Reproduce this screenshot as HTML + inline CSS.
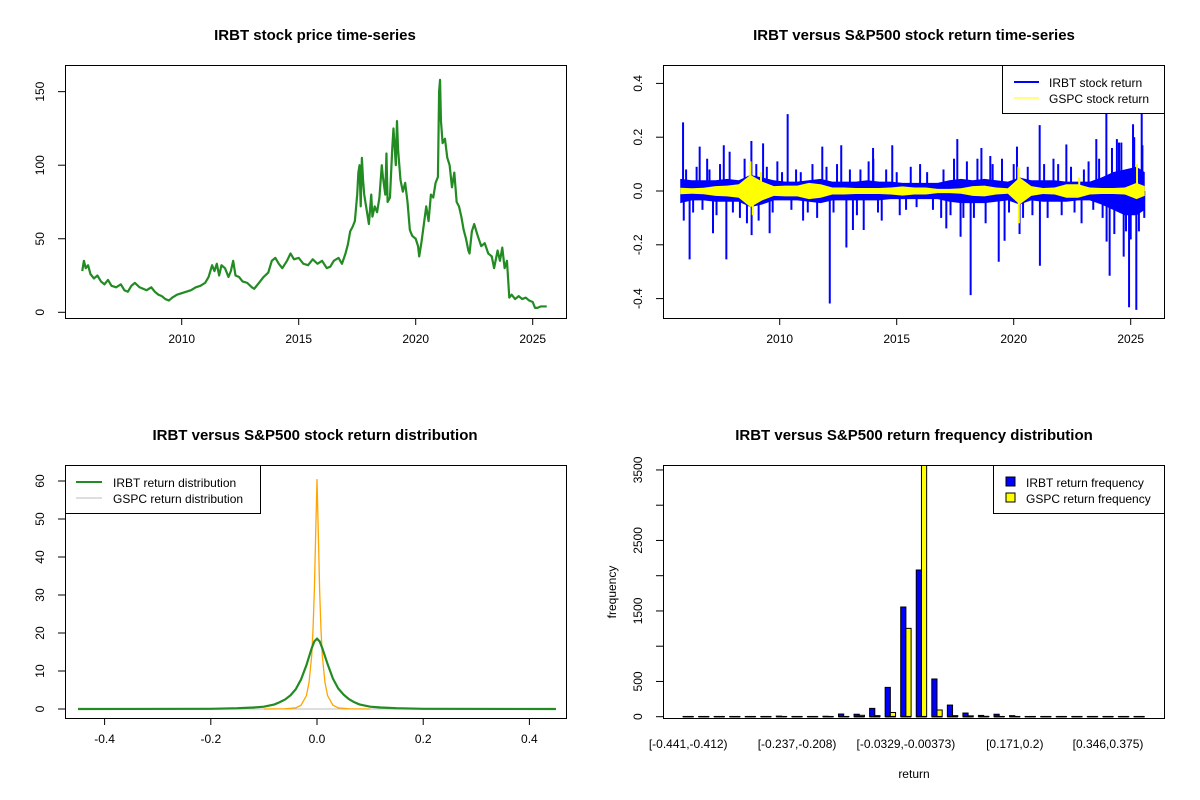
<!DOCTYPE html>
<html><head><meta charset="utf-8"><style>
html,body{margin:0;padding:0;background:#fff;}
svg{display:block;font-family:"Liberation Sans",Arial,sans-serif;}
.t{font-weight:bold;font-size:15px;text-anchor:middle;}
.ax{font-size:12px;}
</style></head><body>
<svg id="chart" width="1200" height="800" viewBox="0 0 1200 800"></svg>
<script>
// ---------- Panel 1: price ----------
const priceYears=[2005.75,2005.82,2005.9,2006.0,2006.1,2006.25,2006.4,2006.55,2006.7,2006.85,2007.0,2007.2,2007.4,2007.55,2007.7,2007.85,2008.0,2008.2,2008.35,2008.5,2008.7,2008.85,2009.0,2009.15,2009.3,2009.45,2009.6,2009.8,2010.0,2010.2,2010.4,2010.6,2010.8,2011.0,2011.15,2011.3,2011.4,2011.5,2011.6,2011.7,2011.85,2012.0,2012.1,2012.2,2012.3,2012.45,2012.6,2012.8,2013.0,2013.1,2013.3,2013.5,2013.7,2013.85,2014.0,2014.15,2014.3,2014.5,2014.65,2014.8,2015.0,2015.2,2015.4,2015.6,2015.8,2016.0,2016.2,2016.35,2016.5,2016.7,2016.85,2017.0,2017.1,2017.2,2017.3,2017.4,2017.5,2017.55,2017.6,2017.65,2017.7,2017.75,2017.8,2017.9,2018.0,2018.1,2018.15,2018.25,2018.35,2018.45,2018.55,2018.6,2018.7,2018.75,2018.8,2018.9,2019.0,2019.05,2019.15,2019.2,2019.25,2019.35,2019.45,2019.55,2019.65,2019.75,2019.85,2020.0,2020.1,2020.15,2020.25,2020.35,2020.45,2020.55,2020.65,2020.75,2020.85,2020.95,2021.0,2021.04,2021.08,2021.15,2021.25,2021.35,2021.45,2021.55,2021.65,2021.75,2021.85,2021.95,2022.05,2022.15,2022.25,2022.3,2022.4,2022.5,2022.65,2022.8,2022.95,2023.1,2023.25,2023.35,2023.5,2023.6,2023.7,2023.8,2023.9,2024.0,2024.1,2024.25,2024.4,2024.55,2024.7,2024.85,2025.0,2025.1,2025.2,2025.35,2025.5,2025.6];
const priceVals=[28,35,30,32,26,23,25,21,19,22,18,17,19,15,14,18,20,17,16,15,17,14,12,11,9,8,10,12,13,14,15,17,18,20,24,32,28,33,25,32,30,24,28,35,25,24,21,20,17,16,20,24,27,35,37,33,30,35,40,36,37,33,32,36,33,35,30,31,35,37,33,40,46,55,58,62,80,95,100,72,105,90,80,70,60,80,65,72,68,78,100,92,80,108,75,78,112,125,100,130,110,90,82,88,75,56,52,50,45,38,48,60,72,62,80,78,88,92,150,158,130,115,118,105,100,85,95,75,72,65,56,50,42,40,55,60,52,45,47,40,38,30,42,35,44,30,35,10,12,9,11,9,10,8,7,3,3,4,4,4];
const priceTicks=[0,50,100,150];
const yearTicks=[2010,2015,2020,2025];
// ---------- Panel 2: returns ----------
const envYears=[2005.75,2006.25,2006.75,2007.25,2007.75,2008.25,2008.75,2009.25,2009.75,2010.25,2010.75,2011.25,2011.75,2012.25,2012.75,2013.25,2013.75,2014.25,2014.75,2015.25,2015.75,2016.25,2016.75,2017.25,2017.75,2018.25,2018.75,2019.25,2019.75,2020.25,2020.75,2021.25,2021.75,2022.25,2022.75,2023.25,2023.75,2024.25,2024.75,2025.25,2025.6];
const irbtUpper=[0.045,0.04,0.04,0.04,0.045,0.04,0.06,0.05,0.04,0.035,0.035,0.04,0.045,0.035,0.035,0.035,0.04,0.035,0.035,0.03,0.03,0.03,0.03,0.04,0.045,0.04,0.045,0.04,0.035,0.05,0.04,0.04,0.04,0.035,0.035,0.035,0.05,0.07,0.08,0.09,0.07];
const irbtLower=[-0.045,-0.035,-0.035,-0.04,-0.04,-0.04,-0.06,-0.05,-0.035,-0.035,-0.035,-0.04,-0.045,-0.035,-0.035,-0.035,-0.035,-0.035,-0.03,-0.03,-0.03,-0.03,-0.03,-0.04,-0.045,-0.045,-0.045,-0.04,-0.035,-0.05,-0.035,-0.04,-0.04,-0.04,-0.035,-0.035,-0.05,-0.07,-0.09,-0.09,-0.07];
const gspcAmp=[0.012,0.01,0.012,0.018,0.02,0.025,0.06,0.035,0.018,0.02,0.02,0.03,0.025,0.013,0.013,0.011,0.011,0.011,0.013,0.017,0.013,0.013,0.008,0.008,0.01,0.018,0.02,0.013,0.01,0.05,0.018,0.011,0.013,0.025,0.025,0.013,0.011,0.011,0.013,0.03,0.018];
const spikeYears=[2005.87,2005.9,2006.15,2006.58,2007.15,2007.61,2007.72,2007.86,2008.79,2008.8,2009.29,2009.57,2010.34,2011.82,2012.14,2012.63,2012.85,2013.13,2013.59,2013.99,2014.36,2014.81,2015.13,2017.12,2017.59,2017.73,2018.16,2018.62,2019.36,2019.61,2020.14,2020.25,2021.11,2021.12,2022.25,2023.53,2023.96,2023.97,2024.1,2024.41,2024.7,2024.93,2025.1,2025.24,2025.47,2025.58,2006.9,2008.3,2009.9,2011.0,2014.0,2016.0,2016.9,2019.0,2021.7,2022.9,2023.2,2024.6,2025.0,
2006.0,2006.3,2006.45,2006.7,2007.0,2007.3,2007.45,2008.0,2008.5,2008.6,2009.0,2009.1,2009.45,2009.7,2010.1,2010.5,2010.7,2010.9,2011.2,2011.4,2011.6,2012.0,2012.3,2012.45,2013.0,2013.3,2013.45,2013.8,2014.2,2014.55,2015.0,2015.4,2015.6,2015.85,2016.3,2016.55,2017.0,2017.3,2017.45,2017.85,2018.0,2018.3,2018.45,2018.8,2019.1,2019.5,2019.8,2020.0,2020.4,2020.6,2020.8,2021.3,2021.45,2021.9,2022.05,2022.45,2022.6,2023.0,2023.4,2023.65,2023.8,2024.2,2024.3,2024.5,2024.8,2025.15,2025.35,2025.5];
const spikeVals=[0.255,-0.11,-0.254,0.165,-0.157,0.17,-0.254,0.146,0.186,-0.164,0.177,-0.157,0.286,0.165,-0.418,0.17,-0.21,-0.145,-0.145,0.16,-0.11,0.17,-0.09,-0.139,0.193,-0.17,-0.387,0.16,-0.263,-0.185,0.165,-0.16,0.245,-0.278,0.173,0.193,0.295,-0.188,-0.315,0.193,-0.244,-0.432,0.248,-0.442,0.289,-0.1,0.12,-0.1,0.11,-0.11,0.12,0.1,-0.1,0.13,0.12,-0.12,0.11,0.18,-0.18,
0.08,-0.08,0.09,-0.07,0.08,-0.09,0.1,-0.08,0.12,-0.12,0.1,-0.11,0.09,-0.08,0.07,-0.07,0.08,0.07,-0.08,0.1,-0.1,0.09,-0.08,0.1,0.08,-0.09,0.08,0.11,-0.08,0.08,0.07,-0.07,0.09,-0.06,0.07,-0.07,0.08,-0.09,0.12,-0.1,0.11,-0.1,0.12,-0.12,0.1,0.12,-0.08,0.1,-0.1,0.09,-0.09,0.1,-0.1,0.1,-0.09,0.09,-0.08,0.08,-0.07,0.12,-0.1,0.16,-0.16,0.18,-0.15,0.2,-0.15,0.17];
const gspcSpikeYears=[2008.75,2008.85,2009.2,2020.2,2020.22,2022.8,2025.27];
const gspcSpikeVals=[0.11,-0.09,0.07,0.09,-0.12,0.05,0.1];
const retTicks=[-0.4,-0.2,0,0.2,0.4];
// ---------- Panel 3: density ----------
const densX=[-0.45,-0.2,-0.15,-0.12,-0.1,-0.08,-0.07,-0.06,-0.05,-0.04,-0.03,-0.02,-0.01,-0.005,0,0.005,0.01,0.02,0.03,0.04,0.05,0.06,0.07,0.08,0.1,0.12,0.15,0.2,0.45];
const irbtDens=[0,0.05,0.2,0.4,0.6,1.2,1.8,2.5,3.6,5.2,7.8,11.5,16,17.8,18.5,17.8,16,11.8,8,5.4,3.8,2.6,1.8,1.2,0.6,0.4,0.2,0.05,0];
const gspcX=[-0.1,-0.06,-0.04,-0.03,-0.02,-0.015,-0.01,-0.0075,-0.005,-0.0025,0,0.0025,0.005,0.0075,0.01,0.015,0.02,0.03,0.04,0.06,0.1];
const gspcDens=[0,0.05,0.3,1,3.5,7,14,21,31,46,60.5,46,31,21,14,7,3.5,1,0.3,0.05,0];
const densXTicks=[-0.4,-0.2,0,0.2,0.4];
const densYTicks=[0,10,20,30,40,50,60];
// ---------- Panel 4: histogram ----------
const irbtFreq=[2,1,1,1,1,1,8,1,2,6,38,35,118,416,1556,2081,535,165,52,18,35,15,2,1,1,1,1,1,2,2];
const gspcFreq=[0,0,0,0,0,0,0,0,0,0,2,20,15,60,1253,3700,95,15,12,5,3,0,0,0,0,0,0,0,0,0];
const binLabels=["[-0.441,-0.412)","[-0.237,-0.208)","[-0.0329,-0.00373)","[0.171,0.2)","[0.346,0.375)"];
const binLabelIdx=[0,7,14,21,27];
const freqTicks=[0,500,1000,1500,2000,2500,3000,3500];
const freqLabels=["0","500","","1500","","2500","","3500"];

const svg=document.getElementById('chart');
const NS='http://www.w3.org/2000/svg';
function mk(tag,attrs,parent,text){const e=document.createElementNS(NS,tag);for(const k in attrs)e.setAttribute(k,attrs[k]);if(text!==undefined)e.textContent=text;(parent||svg).appendChild(e);return e;}

const yx1=y=>181.7+(y-2010)*23.4;
const py1=v=>312.3-v*1.471;
const yx2=y=>779.7+(y-2010)*23.4;
const ry2=v=>191-v*269;
const dx3=x=>317+x*531;
const dy3=v=>709-v*3.8;
const gx4=i=>683+15.55*i;
const fy4=c=>716.7-c*0.0705;

function box(x,y,w,h,name){const r=mk('rect',{x:x,y:y,width:w,height:h,fill:'none',stroke:'#000','stroke-width':1});

}
function title(x,y,s,name){const t=mk('text',{x:x,y:y,class:'t'},svg,s);

}
function xtick(x,y,label,g){mk('line',{x1:x,y1:y,x2:x,y2:y+7,stroke:'#000'},g);if(label!=='')mk('text',{x:x,y:y+25,'text-anchor':'middle',class:'ax'},g,label);}
function ytick(x,y,label,g){mk('line',{x1:x,y1:y,x2:x-7,y2:y,stroke:'#000'},g);if(label!=='')mk('text',{x:x-21,y:y,'text-anchor':'middle',class:'ax',transform:`rotate(-90 ${x-21} ${y})`},g,label);}
function grp(name){const g=mk('g',{});return g;}

// ===== Panel 1 =====
title(315,40,'IRBT stock price time-series','price-chart-title');
let g=grp('price-x-axis');yearTicks.forEach(t=>xtick(yx1(t),318,String(t),g));
g=grp('price-y-axis');priceTicks.forEach(t=>ytick(65,py1(t),String(t),g));
let pl=mk('polyline',{points:priceYears.map((y,i)=>yx1(y)+','+py1(priceVals[i])).join(' '),fill:'none',stroke:'#228B22','stroke-width':2.2,'stroke-linejoin':'round'});


box(65.5,65.5,501,253,'price-plot-frame');

// ===== Panel 2 =====
title(914,40,'IRBT versus S&P500 stock return time-series','return-chart-title');
g=grp('return-x-axis');yearTicks.forEach(t=>xtick(yx2(t),318,String(t),g));
g=grp('return-y-axis');retTicks.forEach(t=>ytick(663,ry2(t),t===0?'0.0':t.toFixed(1),g));
const clipR=mk('clipPath',{id:'c2'});mk('rect',{x:663,y:65,width:502,height:253},clipR);
const g2=mk('g',{'clip-path':'url(#c2)'});


let up=envYears.map((y,i)=>yx2(y)+','+ry2(irbtUpper[i]));
let lo=envYears.map((y,i)=>yx2(y)+','+ry2(irbtLower[i])).reverse();
let band=mk('polygon',{points:up.concat(lo).join(' '),fill:'#0000FF'},g2);


spikeYears.forEach((y,i)=>{const l=mk('line',{x1:yx2(y),x2:yx2(y),y1:ry2(0),y2:ry2(spikeVals[i]),stroke:'#0000FF','stroke-width':2},g2);

});
let gu=envYears.map((y,i)=>yx2(y)+','+ry2(gspcAmp[i]));
let gl=envYears.map((y,i)=>yx2(y)+','+ry2(-gspcAmp[i])).reverse();
let gb=mk('polygon',{points:gu.concat(gl).join(' '),fill:'#FFFF00'},g2);


gspcSpikeYears.forEach((y,i)=>{const l=mk('line',{x1:yx2(y),x2:yx2(y),y1:ry2(0),y2:ry2(gspcSpikeVals[i]),stroke:'#FFFF00','stroke-width':2},g2);

});
box(663.5,65.5,501,253,'return-plot-frame');
g=grp('return-legend');
mk('rect',{x:1002.5,y:65.5,width:162,height:48,fill:'#fff',stroke:'#000'},g);
mk('line',{x1:1014,x2:1039,y1:82,y2:82,stroke:'#0000FF','stroke-width':2},g);
mk('text',{x:1049,y:87,class:'ax'},g,'IRBT stock return');
mk('line',{x1:1014,x2:1039,y1:98,y2:98,stroke:'#FFFF00','stroke-width':1},g);
mk('text',{x:1049,y:103,class:'ax'},g,'GSPC stock return');

// ===== Panel 3 =====
title(315,440,'IRBT versus S&P500 stock return distribution','density-chart-title');
g=grp('density-x-axis');densXTicks.forEach(t=>xtick(dx3(t),718,t===0?'0.0':t.toFixed(1),g));
g=grp('density-y-axis');densYTicks.forEach(t=>ytick(65,dy3(t),String(t),g));
let gl0=mk('line',{x1:dx3(-0.45),x2:dx3(0.45),y1:dy3(0),y2:dy3(0),stroke:'#BEBEBE','stroke-width':1});


let od=mk('polyline',{points:gspcX.map((x,i)=>dx3(x)+','+dy3(gspcDens[i])).join(' '),fill:'none',stroke:'#FFA500','stroke-width':1.3});


let gd=mk('polyline',{points:densX.map((x,i)=>dx3(x)+','+dy3(irbtDens[i])).join(' '),fill:'none',stroke:'#228B22','stroke-width':2.2});


box(65.5,465.5,501,253,'density-plot-frame');
g=grp('density-legend');
mk('rect',{x:65.5,y:465.5,width:195,height:48,fill:'#fff',stroke:'#000'},g);
mk('line',{x1:76,x2:102,y1:482,y2:482,stroke:'#228B22','stroke-width':2},g);
mk('text',{x:113,y:487,class:'ax'},g,'IRBT return distribution');
mk('line',{x1:76,x2:102,y1:498,y2:498,stroke:'#BEBEBE','stroke-width':1},g);
mk('text',{x:113,y:503,class:'ax'},g,'GSPC return distribution');

// ===== Panel 4 =====
title(914,440,'IRBT versus S&P500 return frequency distribution','histogram-title');
g=grp('histogram-x-axis');
binLabelIdx.forEach((b,k)=>mk('text',{x:gx4(b)+5.2,y:748,'text-anchor':'middle',class:'ax'},g,binLabels[k]));
let xl=mk('text',{x:914,y:778,'text-anchor':'middle',class:'ax'},svg,'return');


let yl=mk('text',{x:616,y:592,'text-anchor':'middle',class:'ax',transform:'rotate(-90 616 592)'},svg,'frequency');


g=grp('histogram-y-axis');freqTicks.forEach((t,i)=>ytick(663,fy4(t),freqLabels[i],g));
const clipH=mk('clipPath',{id:'c4'});mk('rect',{x:663,y:465,width:502,height:253},clipH);
const g4=mk('g',{'clip-path':'url(#c4)'});


irbtFreq.forEach((c,i)=>{
 const x=gx4(i);
 const b=mk('rect',{x:x,y:fy4(c),width:5.2,height:Math.max(0.01,fy4(0)-fy4(c)),fill:'#0000FF',stroke:'#000','stroke-width':1},g4);
 
 
 const c2=gspcFreq[i];
 const b2=mk('rect',{x:x+5.2,y:fy4(c2),width:5.2,height:Math.max(0.01,fy4(0)-fy4(c2)),fill:'#FFFF00',stroke:'#000','stroke-width':1},g4);
 
 
 mk('line',{x1:x,x2:x+10.4,y1:fy4(0),y2:fy4(0),stroke:'#000','stroke-width':1.5},g4);
});
box(663.5,465.5,501,253,'histogram-plot-frame');
g=grp('histogram-legend');
mk('rect',{x:993.5,y:465.5,width:171,height:48,fill:'#fff',stroke:'#000'},g);
mk('rect',{x:1006,y:477,width:9,height:9,fill:'#0000FF',stroke:'#000'},g);
mk('text',{x:1026,y:487,class:'ax'},g,'IRBT return frequency');
mk('rect',{x:1006,y:493,width:9,height:9,fill:'#FFFF00',stroke:'#000'},g);
mk('text',{x:1026,y:503,class:'ax'},g,'GSPC return frequency');
</script>
</body></html>
